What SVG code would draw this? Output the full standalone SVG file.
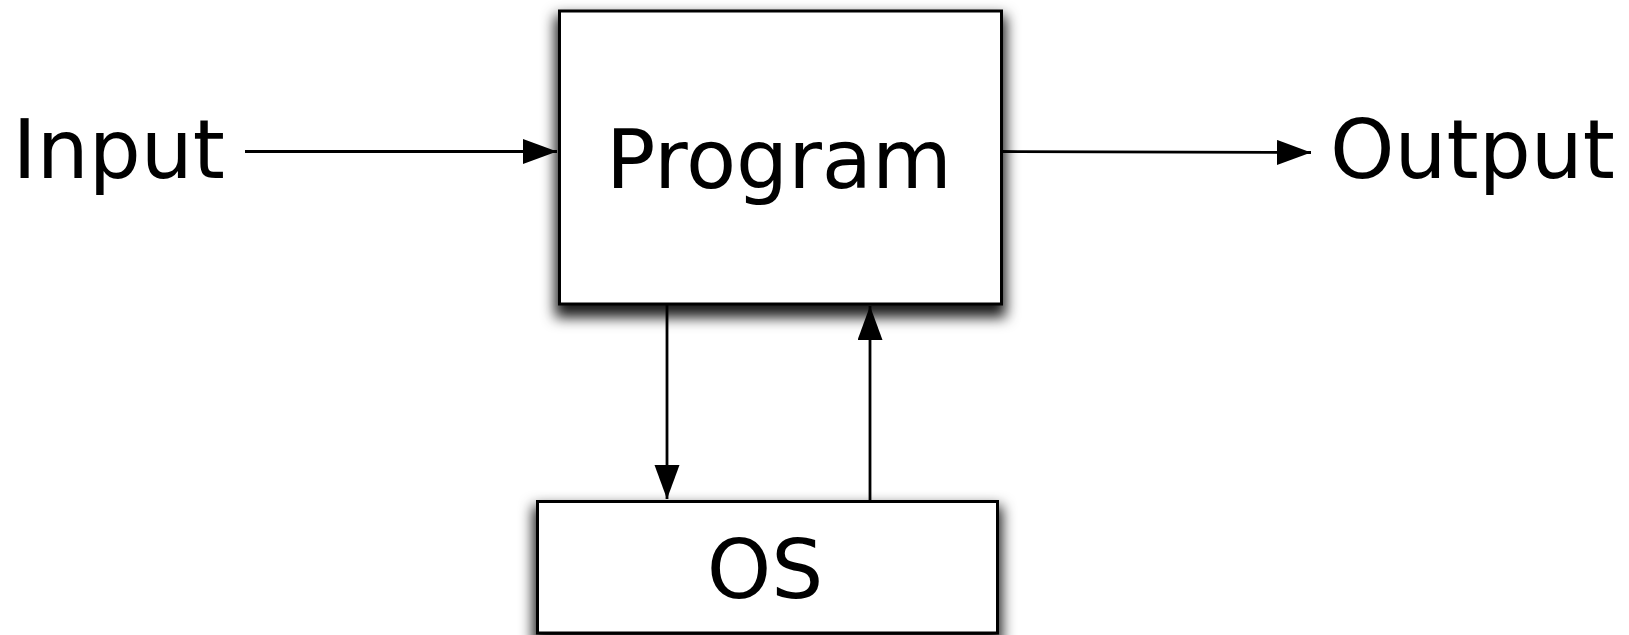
<svg xmlns="http://www.w3.org/2000/svg" width="1629" height="635" viewBox="0 0 1629 635">
<style>
.box{fill:#fff;stroke:#000;stroke-width:3}
.lbl{font-family:"DejaVu Sans",sans-serif;font-size:82px;fill:#000}
.conn{stroke:#000;stroke-width:2.8;fill:none;marker-end:url(#ah)}
</style>
<defs>
<marker id="ah" markerUnits="userSpaceOnUse" markerWidth="35" markerHeight="26" refX="34" refY="12.5" orient="auto">
<path d="M0,0 L34,12.5 L0,25 Z" fill="#000"/>
</marker>
<filter id="sh" x="-20%" y="-20%" width="140%" height="160%">
<feMorphology in="SourceAlpha" operator="dilate" radius="3" result="d"/>
<feGaussianBlur in="d" stdDeviation="7" result="b"/>
<feOffset in="b" dx="0" dy="9" result="o"/>
<feFlood flood-color="#000" flood-opacity="0.9"/>
<feComposite in2="o" operator="in" result="s"/>
<feMerge><feMergeNode in="s"/><feMergeNode in="SourceGraphic"/></feMerge>
</filter>
</defs>
<rect width="1629" height="635" fill="#fff"/>
<g id="program">
<rect class="box" x="559.5" y="11" width="442" height="293" filter="url(#sh)"/>
<text class="lbl" x="779" y="188" text-anchor="middle">Program</text>
</g>
<g id="os">
<rect class="box" x="537.5" y="501.5" width="460" height="131.5" filter="url(#sh)"/>
<text class="lbl" x="765" y="598" text-anchor="middle">OS</text>
</g>
<g id="input">
<text class="lbl" x="12.5" y="178">Input</text>
</g>
<g id="output">
<text class="lbl" x="1330" y="178">Output</text>
</g>
<g id="connectors">
<line class="conn" x1="245" y1="151.5" x2="557" y2="151.5"/>
<line class="conn" x1="1002" y1="151.5" x2="1311" y2="152.5"/>
<line class="conn" x1="667" y1="305" x2="667" y2="499"/>
<line class="conn" x1="870" y1="501" x2="870" y2="306"/>
</g>
</svg>
